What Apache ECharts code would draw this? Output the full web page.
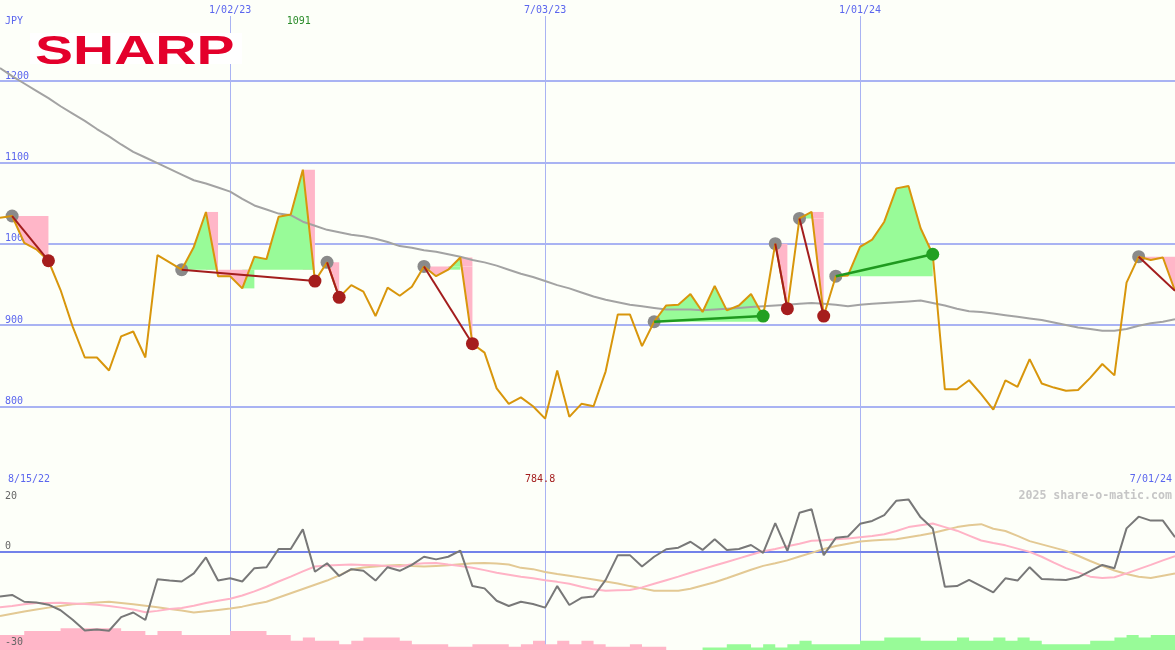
<!DOCTYPE html>
<html><head><meta charset="utf-8">
<script src="https://cdn.jsdelivr.net/npm/echarts@6/dist/echarts.min.js"></script>
<style>html,body{margin:0;padding:0;background:#fdfff9}#c{width:1175px;height:650px}</style>
</head><body><div id="c"></div>
<script>
// ---------- data ----------
const startDate = '2022-08-22';
const weekCount = 98;
const topTickLabels = ['1/02/23', '7/03/23', '1/01/24'];
const rangeLabels = ['8/15/22', '7/01/24'];
const currency = 'JPY';
const logoText = 'SHARP';
const watermark = '2025 share-o-matic.com';

const price = [1032,1034,1001,993,979,943,898,860,860,844,
  886,892,860,986,977,968,996,1039,960,960,
  945,984,981,1033,1036,1091,954,977,934,949,
  941,911,946,936,947,972,960,968,983,877,
  866,822,803,811,800,784.8,844,787,803,800,
  843,913,913,874,904,924,925,938,916,948,
  918,924,938,911,1000,920,1031,1039,911,960,
  961,996,1005,1027,1068,1071,1019,987,821,821,
  832,815,796,832,824,858,828,823,819,820,
  835,852,838,952,984,980,983,942];

const movingAvg = [1216,1206,1197,1188,1179,1169,1160,1151,1141,1132,
  1122,1113,1106,1099,1092,1085,1078,1074,1069,1064,
  1055,1047,1042,1037,1035,1027,1022,1017,1014,1011,
  1009,1006,1002,997,995,992,990,987,984,980,
  977,973,968,963,959,954,949,945,940,935,
  931,928,925,923,921,919,919,919,918,919,
  920,921,922,923,924,925,926,927,926,925,
  923,925,926,927,928,929,930,927,924,920,
  917,916,914,912,910,908,906,903,900,897,
  895,893,893,895,899,902,904,907];

// [entryIndex, exitIndex, stillOpen]
const trades = [[1,4],[15,26],[27,28],[35,39],[54,63],[64,65],[66,68],[69,77],[94,97,true]];

const osc = [-13.6,-13.1,-15.2,-15.4,-16.1,-17.8,-20.7,-24.0,-23.7,-24.1,
  -19.9,-18.5,-20.8,-8.3,-8.7,-9.0,-6.5,-1.6,-8.7,-8.0,
  -9.0,-4.9,-4.6,1.0,1.0,7.0,-6.0,-3.4,-7.3,-5.2,
  -5.7,-8.7,-4.6,-5.7,-3.9,-1.4,-2.2,-1.4,0.5,-10.4,
  -11.1,-14.9,-16.5,-15.2,-15.9,-17.0,-10.4,-16.2,-14.0,-13.6,
  -8.5,-0.9,-0.9,-4.4,-1.4,0.9,1.4,3.2,0.7,4.0,
  0.7,1.0,2.2,-0.2,8.9,0.4,12.1,13.2,-0.9,4.4,
  4.8,8.7,9.6,11.4,15.8,16.2,10.7,7.3,-10.6,-10.4,
  -8.5,-10.4,-12.3,-8.0,-8.7,-4.6,-8.2,-8.4,-8.5,-7.7,
  -5.8,-3.9,-4.9,7.3,10.9,9.7,9.7,4.6];

const oscFast = [-16.9,-16.5,-16.0,-15.6,-15.6,-15.5,-15.7,-15.9,-16.1,-16.5,
  -17.0,-17.6,-18.4,-18.0,-17.4,-17.1,-16.4,-15.6,-14.9,-14.3,
  -13.3,-12.0,-10.6,-9.0,-7.5,-5.9,-4.4,-4.1,-3.9,-3.8,
  -3.9,-4.0,-4.2,-4.4,-3.7,-3.4,-3.3,-3.8,-4.2,-4.8,
  -5.5,-6.3,-6.9,-7.5,-8.0,-8.6,-9.1,-9.7,-10.6,-11.4,
  -11.8,-11.7,-11.6,-10.8,-9.7,-8.6,-7.5,-6.3,-5.2,-4.1,
  -3.0,-1.9,-0.8,0.3,1.0,1.8,2.6,3.5,3.7,4.0,
  4.2,4.6,5.0,5.5,6.5,7.7,8.3,8.8,7.7,6.6,
  5.1,3.6,2.8,2.1,1.1,0.1,-1.4,-3.2,-4.9,-6.2,
  -7.5,-7.9,-7.7,-6.5,-5.2,-3.9,-2.5,-1.2];

const oscSlow = [-19.6,-18.9,-18.2,-17.6,-17.0,-16.5,-16.0,-15.7,-15.4,-15.2,
  -15.6,-16.0,-16.4,-16.9,-17.4,-17.9,-18.5,-18.1,-17.7,-17.3,
  -16.7,-15.9,-15.2,-13.9,-12.6,-11.3,-10.0,-8.7,-7.1,-5.3,
  -4.7,-4.4,-4.1,-3.9,-4.2,-4.4,-4.2,-4.0,-3.7,-3.4,
  -3.3,-3.5,-3.8,-4.8,-5.2,-6.1,-6.7,-7.2,-7.8,-8.4,
  -9.0,-9.6,-10.4,-11.1,-11.8,-11.8,-11.8,-11.2,-10.2,-9.2,
  -8.0,-6.7,-5.4,-4.2,-3.4,-2.5,-1.3,-0.2,1.0,1.9,
  2.6,3.3,3.6,3.8,4.0,4.6,5.2,5.9,6.8,7.7,
  8.3,8.6,7.2,6.5,5.0,3.4,2.4,1.4,0.4,-1.1,
  -2.7,-4.2,-5.6,-6.7,-7.5,-7.9,-7.2,-6.5];

// signed histogram (negative = pink, positive = green)
const histogram = [-4.6,-4.6,-5.8,-5.8,-5.8,-6.7,-6.7,-6.7,-6.7,-6.7,
  -5.8,-5.8,-4.6,-5.8,-5.8,-4.6,-4.6,-4.6,-4.6,-5.8,
  -5.8,-5.8,-4.6,-4.6,-2.8,-3.8,-2.8,-2.8,-1.8,-2.8,
  -3.8,-3.8,-3.8,-2.8,-1.8,-1.8,-1.8,-1.0,-1.0,-1.8,
  -1.8,-1.8,-1.0,-1.8,-2.8,-1.8,-2.8,-1.8,-2.8,-1.8,
  -1.0,-1.0,-1.8,-1.0,0,0,0,0,0.8,0.8,
  1.8,1.8,0.8,1.8,0.8,1.8,2.8,1.8,1.8,1.8,
  1.8,2.8,2.8,3.8,3.8,3.8,2.8,2.8,2.8,3.8,
  2.8,2.8,3.8,2.8,3.8,2.8,1.8,1.8,1.8,1.8,
  2.8,2.8,3.8,4.6,3.8,4.6,4.6,4.6];

// ---------- derived tables ----------
const categories = [];
const t0 = Date.parse(startDate + 'T00:00:00Z');
for (let i = 0; i < weekCount; i++) {
  const d = new Date(t0 + i * 7 * 86400000);
  categories.push((d.getUTCMonth() + 1) + '/' + String(d.getUTCDate()).padStart(2, '0') + '/' + String(d.getUTCFullYear()).slice(2));
}
const histNeg = histogram.map((v, i) => v < 0 ? -v : (i > 0 && histogram[i - 1] < 0 ? -histogram[i - 1] : null));
const histPos = histogram.map(v => v > 0 ? v : null);

// ---------- styles ----------
const BG = '#fdfff9';
const TXT_BLUE = '#5b66ee';
const GRID_BLUE = '#a9b3f3';
const SEP_BLUE = '#7382ea';
const FONT = '"DejaVu Sans Mono", monospace';
const GREEN_FILL = '#98fb98';
const PINK_FILL = '#ffb6c8';
const isTick = (i, v) => topTickLabels.includes(v);

function renderFills(params, api) {
  const tr = trades[params.dataIndex];
  const e = tr[0], x = tr[1], ref = price[e];
  const children = [];
  // segments crossing the entry level: block from the start value to the entry level
  for (let i = e; i < x; i++) {
    const a = price[i] - ref, b = price[i + 1] - ref;
    if (a * b < 0) {
      const p = api.coord([i, price[i]]), q = api.coord([i + 1, ref]);
      children.push({ type: 'rect', shape: { x: p[0], y: Math.min(p[1], q[1]), width: q[0] - p[0], height: Math.abs(q[1] - p[1]) },
        style: { fill: b > 0 ? GREEN_FILL : PINK_FILL } });
    }
  }
  const pts = [];
  for (let i = e; i <= x; i++) {
    pts.push([i, price[i]]);
    if (i < x) {
      const a = price[i] - ref, b = price[i + 1] - ref;
      if (a * b < 0) pts.push([i + a / (a - b), ref]);
    }
  }
  const px = (t, v) => {
    const i = Math.floor(t), f = t - i;
    const p = api.coord([i, v]);
    if (f === 0) return p;
    const q = api.coord([i + 1, v]);
    return [p[0] + (q[0] - p[0]) * f, p[1]];
  };
  const emit = (r, s) => {
    if (!s || r.length < 2) return;
    const poly = r.map(p => px(p[0], p[1]));
    poly.push(px(r[r.length - 1][0], ref));
    poly.push(px(r[0][0], ref));
    children.push({ type: 'polygon', shape: { points: poly }, style: { fill: s > 0 ? GREEN_FILL : PINK_FILL } });
  };
  let run = [pts[0]], sign = 0;
  for (let k = 1; k < pts.length; k++) {
    const mid = (pts[k - 1][1] + pts[k][1]) / 2 - ref;
    const s = mid > 0 ? 1 : (mid < 0 ? -1 : 0);
    if (sign !== 0 && s !== 0 && s !== sign) { emit(run, sign); run = [pts[k - 1]]; }
    if (s !== 0) sign = s;
    run.push(pts[k]);
  }
  emit(run, sign);
  return { type: 'group', children };
}

function renderTradeLine(params, api) {
  const tr = trades[params.dataIndex];
  const a = api.coord([tr[0], price[tr[0]]]);
  const b = api.coord([tr[1], price[tr[1]]]);
  const win = price[tr[1]] > price[tr[0]];
  return { type: 'line', shape: { x1: a[0], y1: a[1], x2: b[0], y2: b[1] },
    style: { stroke: win ? '#1f9a1f' : '#a31d1d', lineWidth: win ? 2.5 : 2 } };
}

const chart = echarts.init(document.getElementById('c'), null, { renderer: 'canvas' });
const option = {
  backgroundColor: BG,
  animation: false,
  grid: [
    { left: 0, right: 0, top: 16, height: 471.6 },
    { left: 0, right: 0, top: 487, height: 163 }
  ],
  xAxis: [
    { gridIndex: 0, type: 'category', data: categories, boundaryGap: false, position: 'top',
      axisLine: { show: false }, axisTick: { show: false },
      axisLabel: { interval: isTick, color: TXT_BLUE, fontFamily: FONT, fontSize: 10, margin: 1 },
      splitLine: { show: true, interval: isTick, lineStyle: { color: GRID_BLUE, width: 1 } } },
    { gridIndex: 1, type: 'category', data: categories, boundaryGap: false, position: 'top',
      axisLine: { show: true, lineStyle: { color: SEP_BLUE, width: 2 } }, axisTick: { show: false },
      axisLabel: { show: false },
      splitLine: { show: true, interval: isTick, lineStyle: { color: GRID_BLUE, width: 1 } } }
  ],
  yAxis: [
    { gridIndex: 0, type: 'value', min: 700, max: 1280, interval: 100,
      axisLine: { show: false }, axisTick: { show: false },
      axisLabel: { inside: true, margin: 5, verticalAlign: 'bottom', color: TXT_BLUE, fontFamily: FONT, fontSize: 10,
        formatter: v => (v >= 800 && v <= 1200) ? String(v) : '' },
      splitLine: { show: true, showMinLine: false, showMaxLine: false, lineStyle: { color: GRID_BLUE, width: 2 } } },
    { gridIndex: 1, type: 'value', min: -30, max: 20, interval: 30,
      axisLine: { show: false }, axisTick: { show: false },
      axisLabel: { inside: true, margin: 5, color: '#666', fontFamily: FONT, fontSize: 10, showMinLabel: true, showMaxLabel: true,
        formatter: v => v === 20 ? '{t|20}' : (v === 0 ? '{m|0}' : '{b|' + v + '}'),
        rich: {
          t: { padding: [18, 0, 0, 0], color: '#666', fontFamily: FONT, fontSize: 10 },
          m: { padding: [0, 0, 12, 0], color: '#666', fontFamily: FONT, fontSize: 10 },
          b: { padding: [0, 0, 16, 0], color: '#666', fontFamily: FONT, fontSize: 10 }
        } },
      splitLine: { show: true, showMinLine: false, showMaxLine: false, lineStyle: { color: GRID_BLUE, width: 2 } } },
    { gridIndex: 1, type: 'value', min: 0, max: 50, show: false, splitLine: { show: false } }
  ],
  series: [
    { type: 'custom', name: 'fills', xAxisIndex: 0, yAxisIndex: 0, z: 2, silent: true,
      data: trades.map(t => [categories[t[0]], price[t[0]]]), encode: { x: 0, y: 1 }, renderItem: renderFills },
    { type: 'line', name: 'MA', xAxisIndex: 0, yAxisIndex: 0, z: 3, data: movingAvg, symbol: 'none', silent: true,
      lineStyle: { color: '#a3a3a3', width: 2 } },
    { type: 'scatter', name: 'entry', xAxisIndex: 0, yAxisIndex: 0, z: 4, symbolSize: 13, silent: true,
      itemStyle: { color: '#8a8a8a', opacity: 1 }, data: trades.map(t => [categories[t[0]], price[t[0]]]) },
    { type: 'line', name: 'price', xAxisIndex: 0, yAxisIndex: 0, z: 5, data: price, symbol: 'none', silent: true,
      lineStyle: { color: '#d8960c', width: 2 } },
    { type: 'custom', name: 'tradeLines', xAxisIndex: 0, yAxisIndex: 0, z: 6, silent: true,
      data: trades.map(t => [categories[t[0]], price[t[0]]]), encode: { x: 0, y: 1 }, renderItem: renderTradeLine },
    { type: 'scatter', name: 'exit', xAxisIndex: 0, yAxisIndex: 0, z: 7, symbolSize: 13, silent: true,
      data: trades.filter(t => !t[2]).map(t => ({ value: [categories[t[1]], price[t[1]]],
        itemStyle: { opacity: 1, color: price[t[1]] > price[t[0]] ? '#22a022' : '#a51d1d' } })) },

    { type: 'line', name: 'histNeg', xAxisIndex: 1, yAxisIndex: 2, z: 1, step: 'end', data: histNeg, symbol: 'none', silent: true,
      lineStyle: { width: 0 }, areaStyle: { color: PINK_FILL, opacity: 1, origin: 'start' } },
    { type: 'line', name: 'histPos', xAxisIndex: 1, yAxisIndex: 2, z: 1, step: 'end', data: histPos, symbol: 'none', silent: true,
      lineStyle: { width: 0 }, areaStyle: { color: GREEN_FILL, opacity: 1, origin: 'start' } },
    { type: 'line', name: 'oscSlow', xAxisIndex: 1, yAxisIndex: 1, z: 2, data: oscSlow, symbol: 'none', silent: true,
      lineStyle: { color: '#e3c994', width: 2 } },
    { type: 'line', name: 'oscFast', xAxisIndex: 1, yAxisIndex: 1, z: 3, data: oscFast, symbol: 'none', silent: true,
      lineStyle: { color: '#ffb3c6', width: 2 } },
    { type: 'line', name: 'osc', xAxisIndex: 1, yAxisIndex: 1, z: 4, data: osc, symbol: 'none', silent: true,
      lineStyle: { color: '#787878', width: 2 } }
  ]
};
chart.setOption(option);

const maxVal = Math.max(...price), minVal = Math.min(...price);
const maxIdx = price.indexOf(maxVal), minIdx = price.indexOf(minVal);
const xMax = chart.convertToPixel({ xAxisIndex: 0 }, categories[maxIdx]);
const xMin = chart.convertToPixel({ xAxisIndex: 0 }, categories[minIdx]);
const txt = (text, x, y, fill, align, extra) => ({
  type: 'text', x: x, y: y, z: 60, silent: true,
  style: Object.assign({ text: text, fill: fill, align: align, verticalAlign: 'middle', fontFamily: FONT, fontSize: 10 }, extra || {})
});
chart.setOption({
  graphic: [
    { type: 'rect', z: 50, silent: true, shape: { x: 30, y: 33, width: 212, height: 31 }, style: { fill: '#ffffff' } },
    { type: 'text', z: 51, silent: true, x: 35, y: 53, scaleX: 1.39, scaleY: 1,
      style: { text: logoText, fill: '#e4002b', align: 'left', verticalAlign: 'middle', fontFamily: '"Liberation Sans", Arial, sans-serif', fontWeight: 'bold', fontSize: 41 } },
    txt(currency, 5, 21, TXT_BLUE, 'left'),
    txt(String(maxVal), xMax - 4, 21, '#2a8c2a', 'center'),
    txt(String(minVal), xMin - 5, 479, '#a31d1d', 'center'),
    txt(rangeLabels[0], 8, 479, TXT_BLUE, 'left'),
    txt(rangeLabels[1], 1172, 479, TXT_BLUE, 'right'),
    txt('-30', 5, 642, '#666', 'left'),
    txt(watermark, 1172, 496, '#c6c6c6', 'right', { fontWeight: 'bold', fontSize: 11.6 })
  ]
});
</script></body></html>
